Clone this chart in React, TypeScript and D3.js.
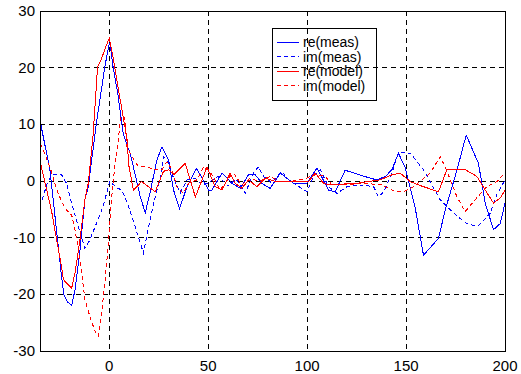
import React from 'react';
import * as d3 from 'd3';

// [x, y] samples
const reMeas: [number, number][] = [
  [-35, 9.8], [-34.5, 9.8], [-30, 2.0], [-26.3, -9.8], [-24.1, -16.9], [-22.9, -20.1], [-21.2, -21.3],
  [-19.0, -22.0], [-17.3, -19.2], [-14.8, -12.2], [-12.3, -3.3], [-10.6, -1.0], [-6.5, 10.2],
  [-2.2, 20.2], [-0.3, 23.8], [0.4, 24.4], [1.9, 20.2], [4.4, 15.2], [7.0, 8.5], [9.2, 6.1],
  [10.6, 4.9], [13.1, 1.1], [15.7, -2.8], [18.2, -5.6], [20.7, -1.9], [24.1, 3.7], [26.6, 6.0],
  [30.0, 3.7], [32.5, -1.6], [35.5, -4.9], [39.3, -1.0], [44, 2.2], [46, 1.1], [50.2, -1.6],
  [51.9, -1.6], [57, 1.4], [62, -0.4], [66.2, -1.3], [70.4, 1.1], [73.8, 1.1], [77.1, -0.4],
  [81.3, -1.3], [86.4, 1.4], [89.7, 0.5], [93.1, -0.4], [99.9, -0.4], [105, 2.3], [110.8, -1.6],
  [114.2, -1.9], [119.2, 1.9], [131.9, 0.5], [135.3, 0.2], [139.5, 0.8], [142.9, 2.0], [146.1, 4.9],
  [149.5, 2.5], [154.5, -4.5], [158.8, -13.1], [166.4, -10.1], [169.8, -5.1], [175.7, 1.9],
  [180.4, 8.1], [186.6, 3.1], [190, -3.9], [194.2, -8.6], [197.6, -7.5], [200, -3.9],
];

const imMeas: [number, number][] = [
  [-35, -4.5], [-31.6, -0.7], [-29.1, 1.1], [-24.1, 1.1], [-21.6, -0.4], [-19, -3.9], [-15.6, -8.1],
  [-14, -9.8], [-12.3, -11.9], [-9.8, -10.4], [-6.5, -7.5], [-3.1, -4.5], [0.2, -0.1], [4.4, -1.3],
  [6.4, -1.6], [9.7, -4.5], [13.1, -8.1], [15.7, -11], [17.3, -12.7], [19.9, -8.1], [22.4, -3.9],
  [25.8, 0.5], [27.4, 4.3], [30, 3.1], [32.5, 0.5], [35.9, -2.1], [39.3, 0.2], [43.5, 0.5],
  [46.9, -0.7], [50.2, -0.3], [55, 0.8], [60, -0.9], [64, 0.4], [68.7, -2.2], [72.9, 1.4], [75.4, 2.5],
  [78, 0.8], [82, -0.3], [87.2, 1.7], [90.6, 0.2], [95, -0.8], [99.9, -1.9], [103.3, 0.8], [106.6, 2.0],
  [110.8, -1.0], [115.1, -2.2], [120.1, -1.0], [127.7, -0.7], [133.6, -1.0], [136.1, -2.8],
  [138.7, -1.9], [142.9, 1.4], [146.1, 5.0], [152.1, 4.9], [158.8, 2.0], [167.2, -3.3], [175.7, -6.2],
  [181.6, -7.7], [186.6, -7.9], [192.5, -5.7], [195.9, -2.4], [200, 0.2],
];

const reModel: [number, number][] = [
  [-35, 2.8], [-34.5, 2.8], [-31.6, -1.6], [-29.1, -5.4], [-26.6, -10.4], [-24.1, -15.1], [-23.2, -17.4],
  [-19, -18.9], [-17.3, -16.2], [-14.8, -10.4], [-12.3, -3.3], [-10.6, -0.4], [-8.1, 8.4], [-5.9, 20.2],
  [-3.9, 21.6], [-1.4, 24.0], [0, 25.2], [1.9, 21.9], [4.4, 16.6], [7, 11.4], [9.2, 7.0], [9.7, 3.1],
  [12.2, -1.6], [16.4, -0.1], [23.2, -1.9], [27.4, 1.7], [30, 2.0], [32.5, 1.1], [38.4, 3.1],
  [43.5, -2.8], [46.9, 0.2], [49.4, 2.5], [51, 1.1], [53.6, -1.0], [57, -1.6], [61.1, 1.4],
  [63.7, -0.4], [67, -1.3], [70.4, 0.2], [74.6, -1.0], [78.8, 0.5], [83.9, -0.1], [90.6, -0.1],
  [100.7, -0.1], [104.1, 1.4], [108.3, -0.4], [110.8, -0.7], [125.1, -0.4], [136.9, 0.2], [142.9, 1.1],
  [147, 1.4], [152.1, -0.1], [156.3, -0.7], [162.2, -1.4], [166.4, -1.9], [170.6, 2.0], [179.9, 2.0],
  [185.8, 0.8], [190, -1.6], [194.2, -3.9], [197.6, -3.0], [200, -1.6],
];

const imModel: [number, number][] = [
  [-35, 6.4], [-34.5, 6.4], [-30, 2.5], [-27.5, -0.4], [-25.8, -2.2], [-22.4, -4.8], [-19, -6.0],
  [-17.3, -8.6], [-15.6, -12.1], [-14, -16.2], [-12.3, -20.9], [-9.8, -23.9], [-7.2, -26.5],
  [-5.6, -27.4], [-3.9, -23.3], [-2.2, -18.0], [-0.6, -11.6], [1.1, -3.3], [2.8, 2.5], [4.4, 6.7],
  [5.8, 11.4], [7.8, 11.1], [8.9, 6.0], [11.5, 4.3], [14.8, 2.5], [19, 2.5], [22.4, 2.0], [26.6, 2.0],
  [29.2, 3.4], [31.7, 2.0], [34.2, -1.0], [37.5, -2.2], [40.1, -0.4], [44.3, 0.2], [47.6, 2.5],
  [50.2, 2.0], [53, 0.5], [56, -1.6], [61.1, 0.8], [62.8, 1.4], [67, -0.7], [71.2, 0.5], [75.4, -0.1],
  [81.3, 0.8], [86.4, -0.1], [91.4, -0.1], [98, 0.3], [104.1, 1.1], [109.2, 0.8], [112.5, -0.7],
  [119.2, -0.7], [129.3, -0.4], [137.8, -0.7], [144.6, -1.9], [148.7, -1.9], [153.8, -1.0],
  [162.2, 1.4], [167.2, 4.3], [169.8, 2.5], [175.7, -2.8], [179.9, -5.4], [184.9, -3.3],
  [190.8, -1.0], [195.9, -0.1], [200, 1.5],
];

const xTicks = [0, 50, 100, 150, 200];
const yTicks = [-30, -20, -10, 0, 10, 20, 30];

const seriesNames = ['re(meas)', 'im(meas)', 're(model)', 'im(model)'];
const seriesData = [reMeas, imMeas, reModel, imModel];
const seriesColors = ['#0000ff', '#0000ff', '#ff0000', '#ff0000'];
const seriesDash = [null, '4,3', null, '4,3'];

const W = 521;
const H = 374;
const margin = { left: 40, right: 16, top: 11, bottom: 23 };

const App: React.FC = () => {
  const x = d3.scaleLinear().domain([-35, 200]).range([margin.left, W - margin.right]);
  const y = d3.scaleLinear().domain([-30, 30]).range([H - margin.bottom, margin.top]);
  const line = d3.line<[number, number]>()
    .x(d => x(d[0]))
    .y(d => y(d[1]));

  const font = '"Liberation Sans", Arial, sans-serif';
  const [x0, x1] = x.range();
  const [y0, y1] = y.range();

  return (
    <svg width={W} height={H} style={{ position: 'absolute', left: 0, top: 0, background: '#fff' }}
      fontFamily={font}>
      <rect x={0} y={0} width={W} height={H} fill="#fff" />

      {/* grid */}
      <g stroke="#000" strokeDasharray="5,4" shapeRendering="crispEdges">
        {xTicks.map(t => (
          <line key={'gx' + t} x1={x(t)} x2={x(t)} y1={y1} y2={y0} />
        ))}
        {yTicks.map(t => (
          <line key={'gy' + t} x1={x0} x2={x1} y1={y(t)} y2={y(t)} />
        ))}
      </g>

      {/* data */}
      <g fill="none" strokeWidth={1} shapeRendering="crispEdges">
        {seriesData.map((s, i) => (
          <path key={seriesNames[i]} d={line(s) || ''} stroke={seriesColors[i]}
            strokeDasharray={seriesDash[i] || undefined} />
        ))}
      </g>

      {/* axes box */}
      <rect x={x0} y={y1} width={x1 - x0} height={y0 - y1} fill="none" stroke="#000"
        shapeRendering="crispEdges" />

      {/* tick labels */}
      <g fontSize={15} fill="#000">
        {xTicks.map(t => (
          <text key={'tx' + t} x={x(t)} y={y0 + 20} textAnchor="middle">{t}</text>
        ))}
        {yTicks.map(t => (
          <text key={'ty' + t} x={x0 - 5} y={y(t) + 5} textAnchor="end">{t}</text>
        ))}
      </g>

      {/* legend */}
      <g>
        <rect x={272} y={28} width={104} height={72} fill="none" stroke="#000" shapeRendering="crispEdges" />
        {seriesNames.map((n, i) => {
          const ly = 42 + i * 14.5;
          return (
            <g key={n}>
              <line x1={277} x2={299} y1={ly} y2={ly} stroke={seriesColors[i]}
                strokeDasharray={seriesDash[i] || undefined} shapeRendering="crispEdges" />
              <text x={303} y={ly + 5} fontSize={14} fill="#000">{n}</text>
            </g>
          );
        })}
      </g>
    </svg>
  );
};

export default App;
